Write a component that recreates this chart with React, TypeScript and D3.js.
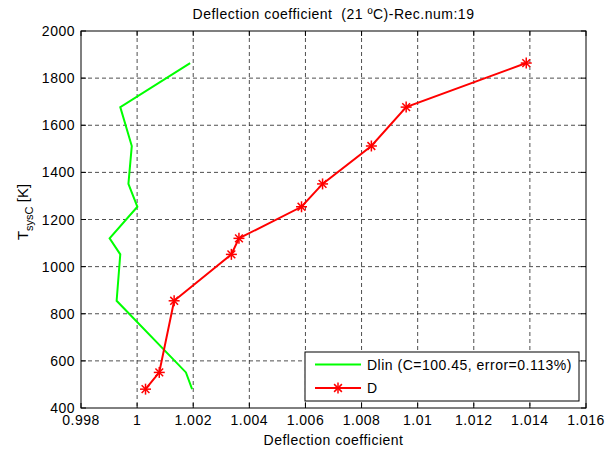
import React from "react";
import * as d3 from "d3";

// Temperature levels (K) shared by both series
const temperatures = [480, 551, 855, 1052, 1120, 1254, 1351, 1512, 1677, 1864];
// Linear fit Dlin
const dlinValues = [1.00196, 1.00174, 0.99927, 0.9994, 0.99902, 1.00001, 0.99969, 0.99981, 0.9994, 1.00189];
// Measured deflection coefficient D
const dValues = [1.0003, 1.00079, 1.00132, 1.00336, 1.00363, 1.00586, 1.00661, 1.00835, 1.00959, 1.01387];

const xTicks = [0.998, 1.0, 1.002, 1.004, 1.006, 1.008, 1.01, 1.012, 1.014, 1.016];
const xTickLabels = ["0.998", "1", "1.002", "1.004", "1.006", "1.008", "1.01", "1.012", "1.014", "1.016"];
const yTicks = [400, 600, 800, 1000, 1200, 1400, 1600, 1800, 2000];

const W = 606;
const H = 451;
const left = 81;
const right = 586;
const top = 31;
const bottom = 408;
const FONT = "'Liberation Sans', Arial, sans-serif";

function Asterisk({ x, y, r }: { x: number; y: number; r: number }) {
  const d = r * Math.SQRT1_2;
  return (
    <g stroke="#ff0000" strokeWidth={1.5}>
      <line x1={x - r} y1={y} x2={x + r} y2={y} />
      <line x1={x} y1={y - r} x2={x} y2={y + r} />
      <line x1={x - d} y1={y - d} x2={x + d} y2={y + d} />
      <line x1={x - d} y1={y + d} x2={x + d} y2={y - d} />
    </g>
  );
}

export default function App() {
  const x = d3.scaleLinear().domain([0.998, 1.016]).range([left, right]);
  const y = d3.scaleLinear().domain([400, 2000]).range([bottom, top]);

  const dlinPts: [number, number][] = temperatures.map((t, i) => [x(dlinValues[i]), y(t)]);
  const dPts: [number, number][] = temperatures.map((t, i) => [x(dValues[i]), y(t)]);
  const line = d3.line();

  const tickLen = 5;
  const gridColor = "#222";
  const ls = 0.5;

  return (
    <svg
      width={W}
      height={H}
      style={{ position: "absolute", left: 0, top: 0, background: "#fff" }}
      fontFamily={FONT}
    >
      <rect x={0} y={0} width={W} height={H} fill="#fff" />

      {/* grid */}
      <g stroke={gridColor} strokeWidth={0.8} strokeDasharray="4,3">
        {xTicks.slice(1, -1).map((v) => (
          <line key={"gx" + v} x1={x(v)} x2={x(v)} y1={top} y2={bottom} />
        ))}
        {yTicks.slice(1, -1).map((v) => (
          <line key={"gy" + v} x1={left} x2={right} y1={y(v)} y2={y(v)} />
        ))}
      </g>

      {/* ticks on all four sides, pointing inward */}
      <g stroke="#000" strokeWidth={1}>
        {xTicks.map((v) => (
          <g key={"tx" + v}>
            <line x1={x(v)} x2={x(v)} y1={bottom} y2={bottom - tickLen} />
            <line x1={x(v)} x2={x(v)} y1={top} y2={top + tickLen} />
          </g>
        ))}
        {yTicks.map((v) => (
          <g key={"ty" + v}>
            <line x1={left} x2={left + tickLen} y1={y(v)} y2={y(v)} />
            <line x1={right} x2={right - tickLen} y1={y(v)} y2={y(v)} />
          </g>
        ))}
      </g>

      {/* series */}
      <path d={line(dlinPts) || ""} fill="none" stroke="#00ff00" strokeWidth={2} />
      <path d={line(dPts) || ""} fill="none" stroke="#ff0000" strokeWidth={2} />
      {dPts.map(([px, py], i) => (
        <Asterisk key={"m" + i} x={px} y={py} r={5.5} />
      ))}

      {/* axes box */}
      <rect x={left} y={top} width={right - left} height={bottom - top} fill="none" stroke="#000" strokeWidth={1} />

      {/* tick labels */}
      <g fontSize={14} fill="#000" letterSpacing={ls}>
        {xTicks.map((v, i) => (
          <text key={"lx" + v} x={x(v)} y={425} textAnchor="middle">
            {xTickLabels[i]}
          </text>
        ))}
        {yTicks.map((v) => (
          <text key={"ly" + v} x={left - 6} y={y(v) + 5} textAnchor="end">
            {v}
          </text>
        ))}
      </g>

      {/* title and axis labels */}
      <text
        x={(left + right) / 2}
        y={19}
        fontSize={14}
        fill="#000"
        textAnchor="middle"
        letterSpacing={ls}
        style={{ whiteSpace: "pre" }}
      >
        {"Deflection coefficient  (21 ºC)-Rec.num:19"}
      </text>
      <text x={(left + right) / 2} y={445} fontSize={14} fill="#000" textAnchor="middle" letterSpacing={ls}>
        Deflection coefficient
      </text>
      <text transform={`translate(28, 212) rotate(-90)`} fontSize={15} fill="#000" textAnchor="middle">
        T
        <tspan fontSize={11} dy={5}>sysC</tspan>
        <tspan dy={-5}> [K]</tspan>
      </text>

      {/* legend */}
      <g>
        <rect x={305} y={352} width={274} height={49} fill="#fff" stroke="#000" strokeWidth={1} />
        <line x1={315} x2={361} y1={364.5} y2={364.5} stroke="#00ff00" strokeWidth={2} />
        <text x={367} y={369.5} fontSize={14} fill="#000" letterSpacing={ls}>
          Dlin (C=100.45, error=0.113%)
        </text>
        <line x1={315} x2={361} y1={388} y2={388} stroke="#ff0000" strokeWidth={2} />
        <Asterisk x={338} y={388} r={5.5} />
        <text x={367} y={393} fontSize={14} fill="#000" letterSpacing={ls}>
          D
        </text>
      </g>
    </svg>
  );
}
